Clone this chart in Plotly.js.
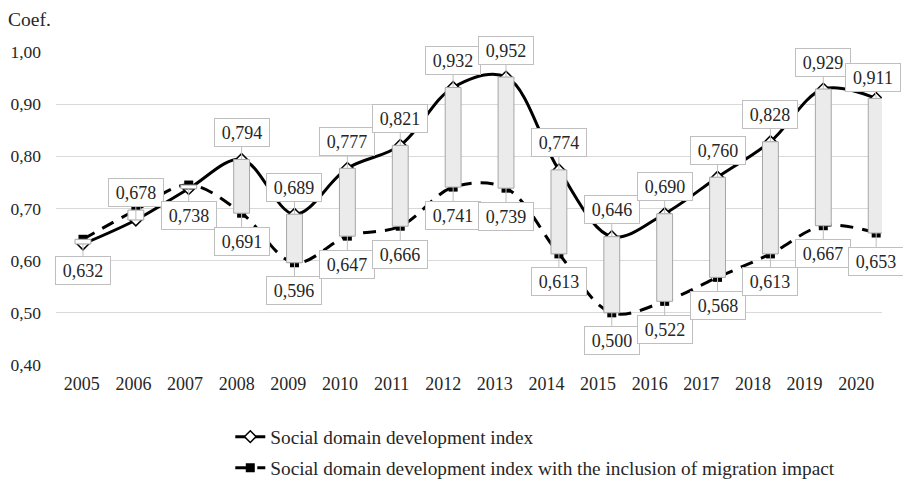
<!DOCTYPE html>
<html><head><meta charset="utf-8">
<script src="https://cdn.plot.ly/plotly-3.0.1.min.js"></script>
<style>html,body{margin:0;padding:0;background:#fff}</style>
</head><body><div id="chart" style="width:903px;height:483px"></div>
<script>
const years = ['2005','2006','2007','2008','2009','2010','2011','2012','2013','2014','2015','2016','2017','2018','2019','2020'];
const socialIndex = [0.632,0.678,0.738,0.794,0.689,0.777,0.821,0.932,0.952,0.774,0.646,0.690,0.760,0.828,0.929,0.911];
const migrationIndex = [0.641,0.697,0.745,0.691,0.596,0.647,0.666,0.741,0.739,0.613,0.500,0.522,0.568,0.613,0.667,0.653];
const seriesNames = ['Social domain development index', 'Social domain development index with the inclusion of migration impact'];
const yTicks = [0.4,0.5,0.6,0.7,0.8,0.9,1.0];
const yTitle = 'Coef.';

const idx = years.map((_, i) => i);
const FONT = 'Liberation Serif';
const TXT = '#262626';
const fmt = v => v.toFixed(3).replace('.', ',');

const traces = [
  {type:'scatter', mode:'lines+markers', x: idx, y: socialIndex, xaxis:'x', yaxis:'y',
   name: seriesNames[0], legendgroup:'a', hoverinfo:'skip',
   line:{color:'#000', width:3, shape:'spline', smoothing:1},
   marker:{symbol:'diamond', size:9, color:'#fff', line:{color:'#000', width:1.5}}},
  {type:'scatter', mode:'lines+markers', x: idx, y: migrationIndex, xaxis:'x', yaxis:'y',
   name: seriesNames[1], legendgroup:'b', hoverinfo:'skip',
   line:{color:'#000', width:3, dash:'13px,9px', shape:'spline', smoothing:1},
   marker:{symbol:'square', size:9, color:'#000'}},
  {type:'bar', x: idx, base: migrationIndex, y: socialIndex.map((v, i) => v - migrationIndex[i]),
   xaxis:'x2', yaxis:'y', width:0.3, showlegend:false, hoverinfo:'skip',
   marker:{color: socialIndex.map((v, i) => v >= migrationIndex[i] ? '#ebebeb' : '#ffffff'),
           line:{color:'#a6a6a6', width:1}}},
  {type:'scatter', mode:'none', x: idx, y: idx.map(() => null), xaxis:'x3', yaxis:'y',
   showlegend:false, hoverinfo:'skip'}
];

const ann = [];
const box = (x, y, text, ax, ay) => ({
  xref:'x', yref:'y', x, y, text, showarrow:true, ax, ay, arrowhead:0, arrowwidth:1,
  arrowcolor:'#bfbfbf', standoff:0, bgcolor:'#fff', bordercolor:'#bfbfbf', borderwidth:1,
  borderpad:4, width:46, height:19, font:{family:FONT, size:18, color:TXT}
});
socialIndex.forEach((v, i) => {
  let ay = (i === 0 || i === 2) ? 27 : -27;
  let ax = 0;
  if (i === years.length - 1) { ay = -21; ax = -3; }
  ann.push(box(i, v, fmt(v), ax, ay));
});
migrationIndex.forEach((v, i) => {
  if (i < 3) return;
  ann.push(box(i, v, fmt(v), 0, 28));
});
ann.push({xref:'paper', yref:'paper', x:-0.0605, y:1.105, xanchor:'left', yanchor:'middle',
  text: yTitle, showarrow:false, font:{family:FONT, size:19.5, color:TXT}});

const layout = {
  width:903, height:483,
  margin:{l:56, r:21, t:52, b:118, autoexpand:false},
  paper_bgcolor:'#fff', plot_bgcolor:'#fff',
  separators:', ',
  font:{family:FONT, size:18, color:TXT},
  showlegend:true,
  legend:{orientation:'v', x:0.211, xanchor:'left', y:-0.168, yanchor:'top',
          font:{family:FONT, size:19.3, color:TXT}, tracegroupgap:3, bgcolor:'rgba(0,0,0,0)'},
  xaxis:{range:[-0.51, 15.11], showticklabels:false, showgrid:false, zeroline:false,
         showline:false, ticks:'', fixedrange:true},
  xaxis2:{overlaying:'x', range:[-0.51, 15.11], visible:false, fixedrange:true},
  xaxis3:{overlaying:'x', range:[-0.5, 15.5], tickvals: idx, ticktext: years, showgrid:false,
          zeroline:false, showline:false, ticks:'', ticklabelstandoff:6, side:'bottom',
          anchor:'y', fixedrange:true, tickfont:{family:FONT, size:18, color:TXT}},
  yaxis:{range:[0.4, 1.0], tickvals: yTicks, tickformat:'.2f', gridcolor:'#d9d9d9', gridwidth:1,
         zeroline:false, showline:false, ticks:'', ticklabelstandoff:14, fixedrange:true,
         tickfont:{family:FONT, size:17.5, color:TXT}},
  annotations: ann,
  barmode:'overlay'
};

Plotly.newPlot('chart', traces, layout, {staticPlot:true, displayModeBar:false});
</script>
</body></html>
